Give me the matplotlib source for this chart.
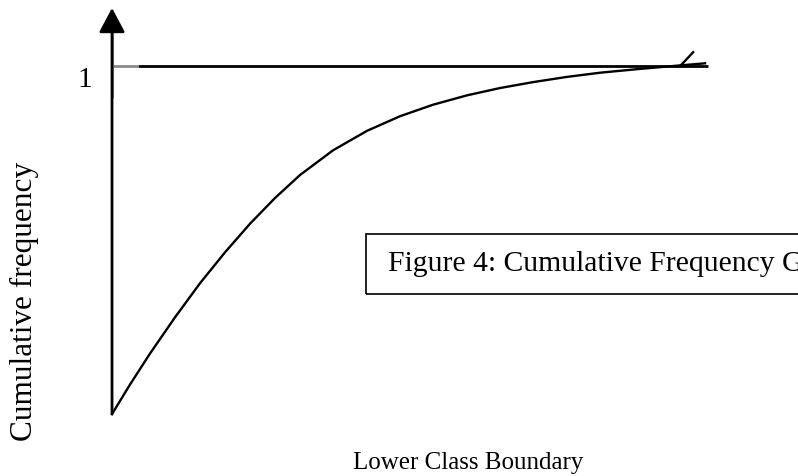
import matplotlib
matplotlib.use("Agg")
import matplotlib.pyplot as plt
from matplotlib.patches import Rectangle

# curve (arbitrary x units, cumulative frequency 0..1)
boundary = [0.0, 0.304, 0.641, 1.062, 1.484, 1.906, 2.327, 2.749, 3.170, 3.727, 4.300,
            4.857, 5.413, 5.987, 6.543, 7.100, 7.673, 8.229, 8.904, 9.578, 10.0]
cum_freq = [0.0, 0.085, 0.174, 0.278, 0.376, 0.465, 0.547, 0.621, 0.687, 0.758, 0.814,
            0.856, 0.889, 0.916, 0.937, 0.954, 0.969, 0.981, 0.992, 1.002, 1.008]

# small hand-drawn tick where the curve meets the line y = 1
check_x = [9.58, 9.80]
check_y = [1.0, 1.04]

upper_line_end = 10.05
x_arrow_end = 11.58
y_arrow_end = 1.167

y_label = "Cumulative frequency"
x_label = "Lower Class Boundary"
caption = "Figure 4: Cumulative Frequency Graph"

plt.rcParams["font.family"] = ["Liberation Serif", "DejaVu Serif"]

fig = plt.figure(figsize=(7.98, 4.76), dpi=100)
ax = fig.add_axes([0, 0, 1, 1])
ax.set_xlim(-1.889, 11.568)
ax.set_ylim(-0.178, 1.190)
ax.axis("off")

arrow = dict(arrowstyle="-|>,head_length=0.75,head_width=0.4", color="k",
             lw=2, mutation_scale=20, shrinkA=0, shrinkB=0)
ax.annotate("", xy=(0, y_arrow_end), xytext=(0, 0), arrowprops=arrow)
ax.annotate("", xy=(x_arrow_end, 0), xytext=(0, 0), arrowprops=arrow)

# level 1 line with the grey tick mark
ax.plot([0.44, upper_line_end], [1, 1], color="k", lw=2, solid_capstyle="butt")
ax.plot([0, 0.44], [1, 1], color="#8a8a8a", lw=2, solid_capstyle="butt")
ax.plot([0, 0], [0.908, 1.103], color="#8a8a8a", lw=2.2, solid_capstyle="butt")

ax.plot(boundary, cum_freq, color="k", lw=1.7, solid_joinstyle="round")
ax.plot(check_x, check_y, color="k", lw=1.7)

ax.text(-0.455, 0.96, "1", fontsize=21, ha="center", va="center")
ax.text(-1.484, 0.325, y_label, fontsize=22.5, rotation=90, ha="center", va="center")
ax.text(6.01, -0.140, x_label, fontsize=18, ha="center", va="center")

ax.add_patch(Rectangle((4.28, 0.345), 9.0, 0.172, fill=False, ec="k", lw=1.2))
ax.text(4.65, 0.43, caption, fontsize=21.3, ha="left", va="center")

fig.savefig("out.png", dpi=100)
